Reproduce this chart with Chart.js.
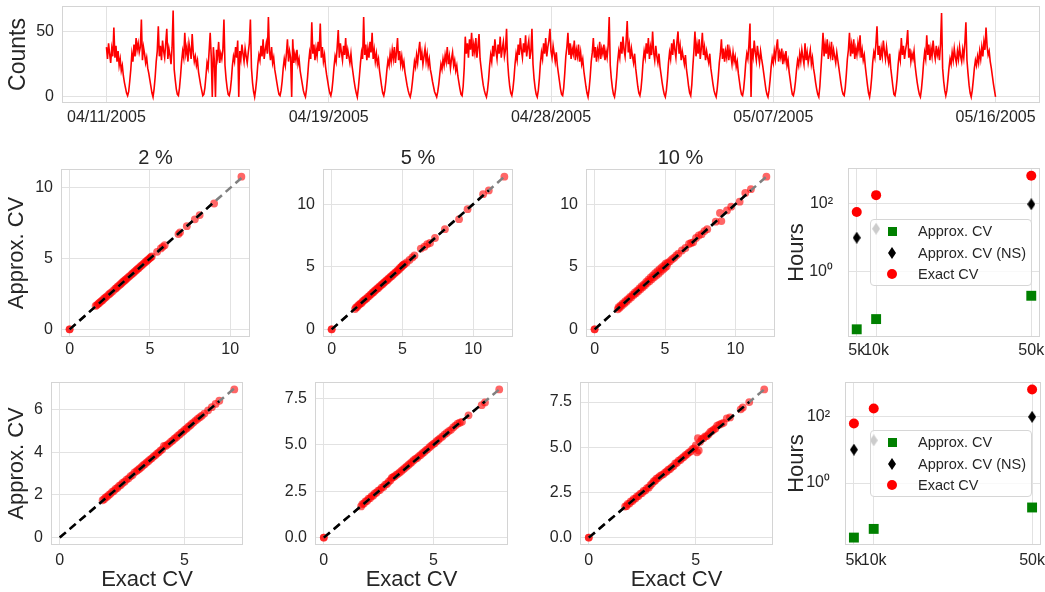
<!DOCTYPE html>
<html>
<head>
<meta charset="utf-8">
<script src="https://cdn.jsdelivr.net/npm/chart.js@4.4.0/dist/chart.umd.min.js"></script>
<style>
  body { margin: 0; background: #fff; width: 1045px; height: 592px; position: relative; overflow: hidden;
         font-family: "Liberation Sans", Arial, Helvetica, sans-serif; }
  canvas { position: absolute; }
  .lg { position: absolute; width: 162px; height: 67px; box-sizing: border-box; background: rgba(255,255,255,0.8);
        border: 1px solid #d6d6d6; border-radius: 4px; }
  .it { position: absolute; left: 0; height: 0; }
  .it span { position: absolute; left: 47px; top: -9px; font-size: 14.5px; line-height: 18px; white-space: nowrap; color: #262626; }
  .m { position: absolute; left: 21px; top: 0; }
  .sq { width: 9px; height: 9px; margin: -4.5px 0 0 -4.5px; background: #008000; }
  .dm { width: 8px; height: 12px; margin: -6px 0 0 -4px; background: #000; clip-path: polygon(50% 0, 100% 50%, 50% 100%, 0 50%); }
  .ci { width: 10px; height: 10px; margin: -5px 0 0 -5px; background: #ff0000; border-radius: 50%; }
</style>
</head>
<body>
<canvas id="top" width="1045" height="135" style="left:0;top:0"></canvas>
<canvas id="p1" width="254" height="213" style="left:0;top:148px"></canvas>
<canvas id="p2" width="255" height="213" style="left:262px;top:148px"></canvas>
<canvas id="p3" width="254" height="213" style="left:525px;top:148px"></canvas>
<canvas id="p4" width="264" height="201" style="left:784px;top:160px"></canvas>
<canvas id="p5" width="247" height="217" style="left:0;top:375px"></canvas>
<canvas id="p6" width="250" height="217" style="left:262px;top:375px"></canvas>
<canvas id="p7" width="252" height="217" style="left:525px;top:375px"></canvas>
<canvas id="p8" width="265" height="217" style="left:784px;top:375px"></canvas>
<div id="lg4" class="lg" style="left:870px;top:219px"></div>
<div id="lg8" class="lg" style="left:870px;top:430px"></div>
<script>
// ---- hourly counts, 04/11/2005 .. 05/16/2005 (one row per daily cycle)
const dateTickLabels = ["04/11/2005", "04/19/2005", "04/28/2005", "05/07/2005", "05/16/2005"];
const counts = [
  38,29,41,33,26,37,31,53,30,39,27,35,24,29,20,24,16,11,7,3,
  1,4,12,21,33,27,40,31,45,36,41,34,38,59,28,38,33,26,30,22,18,13,8,3,
  0,6,15,27,35,54,31,39,28,43,35,30,41,52,29,37,32,25,38,66,21,13,6,2,
  1,7,16,27,35,30,49,33,38,27,41,36,29,48,34,27,31,24,28,19,14,9,5,1,
  2,7,16,26,22,35,49,31,0,38,27,0,36,30,42,26,33,29,36,59,24,14,7,2,
  1,5,13,24,31,27,38,30,43,0,35,29,40,33,27,37,31,26,34,41,59,22,11,4,
  0,6,14,25,32,28,39,31,44,29,36,41,33,61,35,28,38,26,30,21,16,11,6,2,
  1,5,12,22,29,24,33,44,27,35,30,0,44,26,33,28,36,25,29,20,15,10,5,2,
  0,6,15,26,34,29,57,33,40,28,37,31,42,35,56,30,38,27,32,23,17,12,7,3,
  1,5,13,23,31,27,38,51,30,41,34,28,39,32,45,29,36,31,26,33,24,18,12,7,3,
  0,7,16,26,34,29,61,32,40,28,37,30,42,34,49,29,36,27,33,25,29,20,14,8,3,
  1,5,12,21,28,24,33,27,36,29,38,26,34,45,28,35,25,31,23,27,19,14,9,5,2,
  0,4,11,19,27,23,32,26,35,42,28,34,25,31,37,27,33,24,29,21,17,12,8,4,2,
  0,4,10,18,25,21,29,24,32,27,38,25,31,22,29,34,24,28,20,24,16,11,6,2,
  1,8,22,46,33,41,30,44,36,49,31,40,34,45,30,38,48,29,22,15,9,5,2,
  0,5,13,24,32,27,39,31,44,35,29,40,33,46,30,37,42,31,36,52,27,16,8,3,
  1,6,14,25,33,28,40,32,45,36,30,41,34,47,31,38,43,29,35,52,25,14,7,2,
  0,5,14,26,34,29,41,33,45,31,38,43,52,35,30,39,33,27,34,24,18,12,6,2,
  1,7,18,31,38,49,32,41,29,37,33,43,28,36,31,40,27,34,25,29,20,14,8,3,
  0,6,15,27,34,45,30,38,27,36,31,42,29,37,33,40,28,35,30,39,61,24,14,7,2,
  0,6,15,27,35,30,42,33,46,36,31,43,58,34,40,29,37,31,26,33,22,15,8,3,
  1,6,15,27,35,30,41,33,45,29,38,32,50,34,28,39,31,26,33,23,17,11,6,2,
  0,5,14,26,34,29,41,32,44,36,30,42,50,33,39,28,35,30,25,32,21,15,8,3,
  1,9,23,35,50,31,40,33,44,29,37,49,32,38,28,35,30,26,33,22,16,10,5,2,
  0,6,15,26,33,44,29,37,27,35,30,40,28,36,31,25,34,27,31,23,27,18,12,6,2,
  1,6,15,26,33,29,40,56,0,37,31,43,34,28,39,32,26,35,29,24,18,12,6,2,
  0,5,13,23,30,26,35,29,38,44,27,34,30,37,25,32,28,35,24,28,19,13,7,2,
  1,5,12,21,28,24,33,27,36,30,25,41,28,34,26,31,36,25,30,22,17,11,6,2,
  0,8,21,34,49,31,40,33,44,29,38,32,42,28,36,31,26,34,28,22,16,10,5,2,
  1,7,17,29,36,49,31,40,33,44,29,37,32,41,35,47,30,36,28,32,23,16,9,3,
  0,6,15,27,34,30,41,54,32,39,28,37,31,43,35,29,38,31,26,33,22,15,8,2,
  1,6,14,25,33,28,45,32,39,29,36,41,51,30,37,27,33,29,35,24,17,11,6,2,
  0,6,15,26,34,29,47,32,40,28,37,31,43,34,29,39,32,36,28,40,64,22,12,5,
  1,5,13,22,29,25,34,28,37,30,26,35,29,38,31,27,36,30,41,57,28,18,9,3,
  0,5,13,22,28,24,31,26,35,29,38,31,42,36,53,39,32,35,27,22,16,10,5,0
];

// ---- exact vs approximate CV, top row (2 %, 5 %, 10 %)
const p1Exact = [0,0,1.62,1.7,1.76,1.83,1.9,1.98,2.05,2.14,2.22,2.3,2.41,2.5,2.58,2.7,2.83,2.9,2.98,3.07,3.15,3.22,3.3,3.36,3.43,3.5,3.58,3.66,3.74,3.83,3.9,3.98,4.06,4.15,4.22,4.3,4.38,4.46,4.55,4.63,4.71,4.8,4.86,4.93,5.0,5.06,5.12,5.45,5.68,5.8,5.92,6.78,6.88,7.3,7.8,8.1,9.0,10.7];
const p1Approx = [0,0,1.66,1.72,1.79,1.85,1.93,2.0,2.06,2.17,2.25,2.32,2.44,2.52,2.6,2.72,2.86,2.92,3.02,3.1,3.18,3.25,3.33,3.4,3.46,3.53,3.61,3.7,3.77,3.86,3.94,4.01,4.1,4.18,4.26,4.33,4.42,4.5,4.58,4.67,4.75,4.84,4.9,4.97,5.04,5.1,5.16,5.48,5.72,5.84,5.95,6.74,6.86,7.3,7.78,8.08,8.9,10.8];
const p2Exact = [0,0,1.65,1.72,1.8,1.88,1.96,2.04,2.12,2.2,2.3,2.38,2.47,2.56,2.65,2.74,2.82,2.9,2.98,3.06,3.14,3.22,3.3,3.38,3.46,3.54,3.62,3.7,3.78,3.86,3.94,4.02,4.1,4.18,4.26,4.34,4.42,4.5,4.58,4.66,4.74,4.82,4.9,4.96,5.02,5.08,5.14,5.3,5.5,5.7,5.85,6.3,6.55,6.75,6.95,7.3,8.0,9.0,9.6,10.7,11.1,12.2];
const p2Approx = [0,0,1.62,1.75,1.78,1.92,1.98,2.08,2.1,2.25,2.32,2.42,2.46,2.6,2.66,2.78,2.84,2.95,2.99,3.12,3.16,3.27,3.31,3.44,3.48,3.6,3.63,3.76,3.8,3.92,3.95,4.08,4.12,4.24,4.27,4.4,4.44,4.56,4.6,4.72,4.76,4.9,4.95,5.04,5.1,5.16,5.2,5.35,5.55,5.75,5.9,6.45,6.6,6.8,6.9,7.3,8.0,8.8,9.6,10.8,11.1,12.2];
const p3Exact = [0,0,1.65,1.7,1.78,1.85,1.93,2.0,2.1,2.18,2.26,2.35,2.43,2.52,2.6,2.7,2.78,2.86,2.94,3.02,3.1,3.18,3.26,3.34,3.42,3.5,3.58,3.66,3.74,3.82,3.9,3.98,4.06,4.14,4.22,4.3,4.38,4.46,4.54,4.62,4.7,4.78,4.86,4.94,5.0,5.06,5.12,5.2,5.35,5.5,5.65,5.8,5.95,6.2,6.45,6.7,6.85,7.0,7.2,7.4,7.6,7.8,8.0,8.6,8.9,9.0,9.4,9.7,10.3,10.7,11.1,12.2];
const p3Approx = [0,0,1.6,1.78,1.72,1.92,1.88,2.08,2.05,2.26,2.2,2.42,2.38,2.6,2.55,2.78,2.74,2.95,2.88,3.1,3.04,3.28,3.2,3.45,3.36,3.6,3.52,3.8,3.7,3.98,3.85,4.15,4.0,4.32,4.16,4.5,4.3,4.66,4.45,4.8,4.62,4.96,4.78,5.1,4.92,5.26,5.05,5.3,5.45,5.6,5.72,5.9,6.05,6.3,6.5,6.82,6.9,6.95,7.3,7.5,7.6,7.85,8.0,8.6,9.3,8.65,9.5,9.8,10.2,10.9,11.2,12.2];

// ---- exact vs approximate CV, bottom row
const p5Exact = [1.72,1.78,1.84,1.9,1.97,2.03,2.1,2.17,2.24,2.31,2.38,2.45,2.52,2.6,2.68,2.76,2.84,2.92,3.0,3.08,3.14,3.2,3.27,3.34,3.41,3.48,3.55,3.62,3.69,3.76,3.83,3.9,3.97,4.04,4.11,4.18,4.25,4.32,4.39,4.46,4.53,4.6,4.67,4.74,4.81,4.88,4.95,5.02,5.09,5.16,5.23,5.3,5.38,5.46,5.54,5.62,5.7,5.8,5.95,6.1,6.25,6.4,7.0];
const p5Approx = [1.75,1.8,1.88,1.92,2.0,2.05,2.14,2.19,2.28,2.33,2.42,2.47,2.56,2.62,2.72,2.78,2.88,2.94,3.06,3.12,3.18,3.23,3.3,3.38,3.44,3.52,3.58,3.66,3.72,3.8,3.86,3.94,4.0,4.08,4.14,4.3,4.3,4.36,4.42,4.5,4.56,4.64,4.7,4.78,4.84,4.92,4.98,5.06,5.12,5.2,5.26,5.34,5.42,5.5,5.58,5.65,5.72,5.82,5.97,6.12,6.27,6.42,6.95];
const p6Exact = [0,0,1.7,1.76,1.83,1.9,1.97,2.04,2.11,2.18,2.25,2.32,2.4,2.48,2.56,2.64,2.72,2.8,2.88,2.96,3.04,3.1,3.16,3.22,3.3,3.38,3.46,3.54,3.62,3.7,3.78,3.86,3.94,4.02,4.1,4.18,4.26,4.34,4.42,4.5,4.58,4.66,4.74,4.82,4.9,4.98,5.06,5.14,5.22,5.3,5.4,5.5,5.6,5.7,5.8,5.9,6.0,6.1,6.2,6.3,6.6,7.2,7.35,8.0];
const p6Approx = [0,0,1.68,1.8,1.84,1.95,1.98,2.1,2.12,2.24,2.26,2.38,2.42,2.54,2.57,2.7,2.73,2.86,2.9,3.02,3.1,3.22,3.26,3.3,3.38,3.44,3.52,3.6,3.68,3.76,3.84,3.92,4.0,4.08,4.18,4.25,4.3,4.4,4.46,4.56,4.62,4.72,4.78,4.88,4.96,5.04,5.1,5.2,5.27,5.36,5.45,5.56,5.65,5.75,5.82,5.95,6.05,6.15,6.2,6.25,6.6,7.15,7.3,8.0];
const p7Exact = [0,0,1.7,1.76,1.82,1.9,1.96,2.04,2.1,2.18,2.25,2.32,2.4,2.48,2.56,2.64,2.72,2.8,2.88,2.96,3.04,3.1,3.16,3.24,3.32,3.4,3.48,3.56,3.64,3.72,3.8,3.88,3.96,4.04,4.12,4.2,4.28,4.36,4.44,4.52,4.6,4.68,4.76,4.84,4.92,5.0,5.06,5.1,5.14,5.2,5.28,5.36,5.44,5.52,5.6,5.68,5.76,5.84,5.92,6.0,6.1,6.2,6.3,6.45,6.6,7.1,7.2,7.5,8.2];
const p7Approx = [0,0,1.72,1.74,1.86,1.88,2.0,2.02,2.14,2.16,2.28,2.3,2.42,2.46,2.58,2.6,2.74,2.76,2.9,3.0,3.12,3.14,3.26,3.3,3.4,3.46,3.5,3.6,3.66,3.76,3.8,3.9,3.96,4.1,4.14,4.26,4.3,4.4,4.46,4.56,4.62,4.72,4.76,4.9,4.94,5.1,4.72,5.5,4.82,5.3,5.45,5.5,5.6,5.62,5.72,5.85,5.9,5.98,6.04,6.2,6.25,6.3,6.35,6.6,6.65,7.1,7.2,7.5,8.2];

// ---- computation time (hours) vs sample size (thousands)
const sampleSizes = [5, 10, 50];
const sizeTickLabels = ["5k", "10k", "50k"];
const hoursTopApprox = [0.0195, 0.039, 0.19];
const hoursTopNS = [9.8, 18, 95];
const hoursTopExact = [56, 176, 660];
const hoursBotApprox = [0.0224, 0.041, 0.182];
const hoursBotNS = [10.2, 19.5, 100];
const hoursBotExact = [63, 178, 676];
const legendLabels = ["Approx. CV", "Approx. CV (NS)", "Exact CV"];

const FONT = "'Liberation Sans', Arial, Helvetica, sans-serif";
const INK = "#262626";
Chart.defaults.font.family = FONT;
Chart.defaults.color = INK;
Chart.defaults.animation = false;

// light grey box round the plotting area, like the seaborn whitegrid spines
const frame = {
  id: "frame",
  beforeDatasetsDraw(chart) {
    const { ctx, chartArea: a } = chart;
    ctx.save();
    ctx.strokeStyle = "#d4d4d4";
    ctx.lineWidth = 1;
    const l = Math.round(a.left), t = Math.round(a.top);
    ctx.strokeRect(l + 0.5, t + 0.5, Math.round(a.right) - l - 1, Math.round(a.bottom) - t - 1);
    ctx.restore();
  }
};

function axis(type, min, max, tickValues, tickLabels, fixed, pad, title) {
  return {
    type, min, max,
    grid: { color: "#e2e2e2", lineWidth: 1, drawTicks: false },
    border: { display: false },
    ticks: {
      padding: pad, autoSkip: false, maxRotation: 0, minRotation: 0,
      font: { size: 16 }, color: INK,
      callback: (v, i) => tickLabels[i]
    },
    afterBuildTicks: (s) => { s.ticks = tickValues.map((v) => ({ value: v })); },
    afterFit: (s) => {
      // pin the axis box so every plotting area lands where the figure has it
      if (s.isHorizontal()) { s.height = fixed; s.paddingLeft = 0; s.paddingRight = 0; }
      else { s.width = fixed; s.paddingTop = 0; s.paddingBottom = 0; }
    },
    title: title
      ? { display: true, text: title.text, color: INK, font: { size: title.size, lineHeight: title.lh },
          padding: title.padding }
      : { display: false }
  };
}

function baseOptions(padTop, padRight, scales, titleText) {
  return {
    responsive: false, animation: false, events: [],
    layout: { padding: { top: padTop, right: padRight, left: 0, bottom: 0 } },
    plugins: {
      legend: { display: false }, tooltip: { enabled: false },
      title: titleText
        ? { display: true, text: titleText, fullSize: false, color: INK,
            font: { size: 20, weight: "normal", lineHeight: 1 }, padding: { top: 0, bottom: 1 } }
        : { display: false }
    },
    scales
  };
}

// top: counts time series
const spanDays = (counts.length - 1) / 24;
const dateTickPos = dateTickLabels.map((_, i) => (i * spanDays) / (dateTickLabels.length - 1));
new Chart(document.getElementById("top"), {
  type: "line",
  data: {
    datasets: [{
      data: counts.map((v, i) => ({ x: i / 24, y: v })),
      borderColor: "#ff0000", borderWidth: 1.6, pointRadius: 0, tension: 0
    }]
  },
  options: baseOptions(6, 5, {
    x: axis("linear", -1.75, 36.75, dateTickPos, dateTickLabels, 32, 5),
    y: axis("linear", -4.6, 69.4, [0, 50], ["0", "50"], 62, 8,
      { text: "Counts", size: 23, lh: 1.2, padding: { top: 5, bottom: 0 } })
  }),
  plugins: [frame]
});

function cvPanel(id, exact, approx, lim, p) {
  const end = Math.max(...exact);
  const second = [...exact].sort((a, b) => b - a)[1];
  new Chart(document.getElementById(id), {
    type: "scatter",
    data: {
      datasets: [
        { data: [{ x: 0, y: 0 }, { x: second, y: second }], showLine: true, borderColor: "#000",
          borderWidth: 2.5, borderDash: [8, 5], pointRadius: 0, order: 0 },
        { data: [{ x: 0, y: 0 }, { x: end, y: end }], showLine: true, borderColor: "#808080",
          borderWidth: 2.5, borderDash: [8, 5], pointRadius: 0, order: 1 },
        { data: exact.map((v, i) => ({ x: v, y: approx[i] })), backgroundColor: "rgba(255,0,0,0.6)",
          borderWidth: 0, pointRadius: 3.9, order: 2 }
      ]
    },
    options: baseOptions(p.padTop, 2, {
      x: axis("linear", lim.x[0], lim.x[1], p.xTicks, p.xLabels, p.xH, p.xPad, p.xTitle),
      y: axis("linear", lim.y[0], lim.y[1], p.yTicks, p.yLabels, p.yW, 8, p.yTitle)
    }, p.title),
    plugins: [frame]
  });
}

const yTitleCV = (pad) => ({ text: "Approx. CV", size: 22, lh: 1.2, padding: { top: pad, bottom: 0 } });
const xTitleCV = { text: "Exact CV", size: 22, lh: 1, padding: { top: 0, bottom: 1 } };
const t0510 = [0, 5, 10], l0510 = ["0", "5", "10"];

cvPanel("p1", p1Exact, p1Approx, { x: [-0.535, 11.235], y: [-0.54, 11.34] },
  { padTop: 0, title: "2 %", xTicks: t0510, xLabels: l0510, yTicks: t0510, yLabels: l0510,
    xH: 24, xPad: 3, yW: 61, yTitle: yTitleCV(4) });
cvPanel("p2", p2Exact, p2Approx, { x: [-0.61, 12.81], y: [-0.61, 12.81] },
  { padTop: 0, title: "5 %", xTicks: t0510, xLabels: l0510, yTicks: t0510, yLabels: l0510,
    xH: 24, xPad: 3, yW: 61 });
cvPanel("p3", p3Exact, p3Approx, { x: [-0.61, 12.81], y: [-0.61, 12.81] },
  { padTop: 0, title: "10 %", xTicks: t0510, xLabels: l0510, yTicks: t0510, yLabels: l0510,
    xH: 24, xPad: 3, yW: 61 });
cvPanel("p5", p5Exact, p5Approx, { x: [-0.35, 7.35], y: [-0.35, 7.3] },
  { padTop: 7, xTicks: [0, 5], xLabels: ["0", "5"], yTicks: [0, 2, 4, 6], yLabels: ["0", "2", "4", "6"],
    xH: 47, xPad: 6, yW: 51, yTitle: yTitleCV(3.5), xTitle: xTitleCV });
cvPanel("p6", p6Exact, p6Approx, { x: [-0.4, 8.4], y: [-0.4, 8.4] },
  { padTop: 7, xTicks: [0, 5], xLabels: ["0", "5"], yTicks: [0, 2.5, 5, 7.5], yLabels: ["0.0", "2.5", "5.0", "7.5"],
    xH: 47, xPad: 6, yW: 53, xTitle: xTitleCV });
cvPanel("p7", p7Exact, p7Approx, { x: [-0.41, 8.61], y: [-0.41, 8.61] },
  { padTop: 7, xTicks: [0, 5], xLabels: ["0", "5"], yTicks: [0, 2.5, 5, 7.5], yLabels: ["0.0", "2.5", "5.0", "7.5"],
    xH: 47, xPad: 6, yW: 55, xTitle: xTitleCV });

// thin diamond, matplotlib "d"
function diamond(w, h) {
  const c = document.createElement("canvas");
  c.width = w; c.height = h;
  const g = c.getContext("2d");
  g.fillStyle = "#000";
  g.beginPath();
  g.moveTo(w / 2, 0); g.lineTo(w, h / 2); g.lineTo(w / 2, h); g.lineTo(0, h / 2);
  g.closePath(); g.fill();
  return c;
}
const diamondMark = diamond(8, 12);

function hoursPanel(id, approx, ns, exact, logLim, padTop, xH, xPad) {
  const pts = (ys) => sampleSizes.map((n, i) => ({ x: n, y: ys[i] }));
  new Chart(document.getElementById(id), {
    type: "scatter",
    data: {
      datasets: [
        { data: pts(approx), pointStyle: "rect", pointRadius: 7, backgroundColor: "#008000", borderWidth: 0 },
        { data: pts(ns), pointStyle: diamondMark, pointRadius: 6, backgroundColor: "#000", borderWidth: 0 },
        { data: pts(exact), pointStyle: "circle", pointRadius: 5, backgroundColor: "#ff0000", borderWidth: 0 }
      ]
    },
    options: baseOptions(padTop, 8, {
      x: axis("linear", 2.75, 52.25, sampleSizes, sizeTickLabels, xH, xPad),
      y: axis("logarithmic", Math.pow(10, logLim[0]), Math.pow(10, logLim[1]), [1, 100], ["10\u2070", "10\u00b2"],
        id === "p4" ? 64 : 61, 15, { text: "Hours", size: 22, lh: 1.2, padding: { top: 0, bottom: 0 } })
    }),
    plugins: [frame]
  });
}
hoursPanel("p4", hoursTopApprox, hoursTopNS, hoursTopExact, [-1.937, 3.046], 8, 24, 4);
hoursPanel("p8", hoursBotApprox, hoursBotNS, hoursBotExact, [-1.874, 3.054], 7, 47, 6);

// legends sit inside the axes with a translucent white box
const legendMarks = ["sq", "dm", "ci"];
const legendRows = [11, 33, 54];
for (const id of ["lg4", "lg8"]) {
  const box = document.getElementById(id);
  legendLabels.forEach((label, i) => {
    const it = document.createElement("div");
    it.className = "it";
    it.style.top = legendRows[i] + "px";
    it.innerHTML = '<i class="m ' + legendMarks[i] + '"></i><span>' + label + "</span>";
    box.appendChild(it);
  });
}
</script>
</body>
</html>
